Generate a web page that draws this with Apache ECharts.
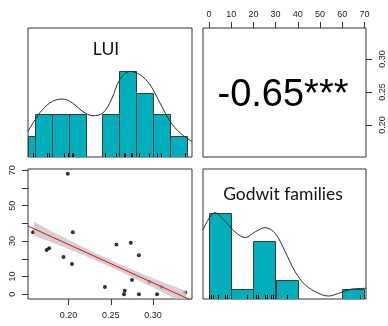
<!DOCTYPE html>
<html><head><meta charset="utf-8">
<script src="https://cdn.jsdelivr.net/npm/echarts@6/dist/echarts.min.js"></script>
<style>html,body{margin:0;padding:0;background:#fff}#c{width:388px;height:326px}</style>
</head><body><div id="c"></div>
<script>
// ---- data ----
const luiValues    = [0.158,0.199,0.174,0.177,0.194,0.205,0.204,0.243,0.2566,0.2656,0.2664,0.2736,0.275,0.2832,0.2832,0.3047,0.338,0.2955,0.3098];
const godwitValues = [35,68,25,26,21,35,17,4,28,0,2,29,8,22,0,0,1,7,4];

const luiBreaks = [0.14,0.16,0.18,0.20,0.22,0.24,0.26,0.28,0.30,0.32,0.34];
const luiCounts = [1,2,2,2,0,2,4,3,2,1];
const godwitBreaks = [0,10,20,30,40,50,60,70];
const godwitCounts = [9,1,6,2,0,0,1];

const luiDensX = [0.152,0.1591,0.169,0.1809,0.1928,0.2048,0.2167,0.2286,0.2406,0.2506,0.2605,0.2724,0.2844,0.2963,0.3082,0.3202,0.3321,0.346];
const luiDensY = [1.2,1.66,2.21,2.6,2.71,2.52,2.13,1.93,2.06,2.68,3.61,4.0,3.85,3.38,2.52,1.66,1.12,0.72];
const godDensX = [-2.72,2.7,7.2,11.7,16.3,20.8,25.3,29.8,34.3,38.8,43.4,49.4,53.9,58.4,64.5,70.72];
const godDensY = [7.19,8.99,8.1,7.0,6.4,7.0,7.43,6.84,4.93,2.84,1.46,0.59,0.31,0.59,1.04,1.11];

const regX = [0.152,0.346];
const regY = [38.5,-3.6];
const bandX     = [0.159,0.18,0.20,0.22,0.24,0.26,0.28,0.30,0.32,0.339];
const bandLower = [33.0,29.2,25.5,21.6,17.4,13.1,8.5,3.8,-1.1,-6.0];
const bandUpper = [41.0,35.6,30.7,26.0,21.4,17.1,12.9,9.0,5.3,1.8];

const corrText = '-0.65***';
const luiTicks = [0.20,0.25,0.30];
const godwitTicks = [0,10,20,30,40,50,60,70];
const godwitLabels = [0,10,30,50,70];

const luiRange = [0.152,0.346];
const godwitRange = [-2.72,70.72];

// ---- chart ----
const chart = echarts.init(document.getElementById('c'), null, {renderer:'canvas'});
const boxColor = '#333';
const tickStyle = {color:'#333', width:1};
const labelStyle = {color:'#222', fontSize:9, fontFamily:'Liberation Sans'};
const noLine = {show:false, onZero:false};

function histSeries(g, breaks, counts, xmin){
  return {type:'custom', xAxisIndex:g, yAxisIndex:g, clip:true, z:2,
    encode:{x:[0,1], y:2},
    data: counts.map((c,i)=>[breaks[i], breaks[i+1], c]),
    renderItem:(params, api)=>{
      const c = api.value(2); if(!c) return null;
      const x0 = Math.max(api.value(0), xmin);
      const p0 = api.coord([x0, c]); const p1 = api.coord([api.value(1), 0]);
      return {type:'rect', shape:{x:Math.round(p0[0])+0.5, y:Math.round(p0[1])+0.5, width:Math.round(p1[0]-p0[0]), height:Math.round(p1[1]-p0[1])},
        style:{fill:'#00AFBB', stroke:'#3a3a3a', lineWidth:1}};
    }};
}
function rugSeries(g, vals){
  return {type:'custom', xAxisIndex:g, yAxisIndex:g, z:3,
    data: vals.map(v=>[v,0]),
    renderItem:(params, api)=>{
      const p = api.coord([api.value(0),0]);
      const x = Math.round(p[0])+0.5;
      return {type:'line', shape:{x1:x, y1:p[1], x2:x, y2:p[1]-4}, style:{stroke:'#000', lineWidth:1}};
    }};
}
function densSeries(g, xs, ys){
  return {type:'line', xAxisIndex:g, yAxisIndex:g, z:4, smooth:0.35, showSymbol:false, silent:true,
    data: xs.map((x,i)=>[x, ys[i]]), lineStyle:{color:'#2a2a2a', width:1}};
}
const hidden = {show:false};

const option = {
  animation:false,
  grid:[
    {left:28, top:28, width:164, height:129, show:true, borderColor:boxColor, borderWidth:1, backgroundColor:'transparent'},
    {left:203, top:28, width:163, height:129, show:true, borderColor:boxColor, borderWidth:1, backgroundColor:'transparent'},
    {left:28, top:169, width:164, height:130, show:true, borderColor:boxColor, borderWidth:1, backgroundColor:'transparent'},
    {left:203, top:169, width:163, height:130, show:true, borderColor:boxColor, borderWidth:1, backgroundColor:'transparent'}
  ],
  xAxis:[
    {gridIndex:0, type:'value', min:luiRange[0], max:luiRange[1], show:false, splitLine:hidden, axisLine:noLine},
    {gridIndex:1, type:'value', position:'top', min:godwitRange[0], max:godwitRange[1], splitLine:hidden,
      axisLine:noLine, axisTick:{show:true, length:6, customValues:godwitTicks, lineStyle:tickStyle},
      axisLabel:Object.assign({customValues:godwitTicks, margin:9}, labelStyle)},
    {gridIndex:2, type:'value', position:'bottom', min:luiRange[0], max:luiRange[1], splitLine:hidden,
      axisLine:noLine, axisTick:{show:true, length:6, customValues:luiTicks, lineStyle:tickStyle},
      axisLabel:Object.assign({customValues:luiTicks, margin:12, formatter:v=>v.toFixed(2)}, labelStyle)},
    {gridIndex:3, type:'value', min:godwitRange[0], max:godwitRange[1], show:false, splitLine:hidden, axisLine:noLine}
  ],
  yAxis:[
    {gridIndex:0, type:'value', min:0, max:6.03, show:false, splitLine:hidden, axisLine:noLine},
    {gridIndex:1, type:'value', position:'right', min:0.1515, max:0.347, splitLine:hidden,
      axisLine:noLine, axisTick:{show:true, length:6, customValues:luiTicks, lineStyle:tickStyle},
      axisLabel:Object.assign({customValues:luiTicks, rotate:90, margin:12, formatter:v=>v.toFixed(2)}, labelStyle)},
    {gridIndex:2, type:'value', position:'left', min:godwitRange[0], max:godwitRange[1], splitLine:hidden,
      axisLine:noLine, axisTick:{show:true, length:6, customValues:godwitTicks, lineStyle:tickStyle},
      axisLabel:Object.assign({customValues:godwitLabels, rotate:90, margin:11}, labelStyle)},
    {gridIndex:3, type:'value', min:0, max:13.54, show:false, splitLine:hidden, axisLine:noLine}
  ],
  series:[
    histSeries(0, luiBreaks, luiCounts, luiRange[0]),
    rugSeries(0, luiValues),
    densSeries(0, luiDensX, luiDensY),
    {type:'scatter', xAxisIndex:1, yAxisIndex:1, data:[]},
    {type:'scatter', xAxisIndex:2, yAxisIndex:2, z:2, symbolSize:4, itemStyle:{color:'#000'},
      data: luiValues.map((v,i)=>[v, godwitValues[i]])},
    {type:'custom', xAxisIndex:2, yAxisIndex:2, z:3, clip:true, silent:true,
      data: bandX.map((x,i)=>[x, bandLower[i], bandUpper[i]]),
      renderItem:(params, api)=>{
        if(params.dataIndex!==0) return null;
        const up = bandX.map((x,i)=>api.coord([x, bandUpper[i]]));
        const lo = bandX.map((x,i)=>api.coord([x, bandLower[i]])).reverse();
        return {type:'polygon', shape:{points:up.concat(lo)}, style:{fill:'rgba(195,195,195,0.75)'}};
      }},
    {type:'line', xAxisIndex:2, yAxisIndex:2, z:4, showSymbol:false, silent:true, clip:true,
      data: regX.map((x,i)=>[x, regY[i]]), lineStyle:{color:'#ff0000', width:1}},
    histSeries(3, godwitBreaks, godwitCounts, godwitRange[0]),
    rugSeries(3, godwitValues),
    densSeries(3, godDensX, godDensY)
  ],
  graphic:[
    {type:'text', x:106, y:49, z:10, style:{text:'LUI', font:'17.5px Lato', fill:'#111', align:'center', verticalAlign:'middle'}},
    {type:'text', x:283, y:194, z:10, style:{text:'Godwit families', font:'17.5px Lato', fill:'#111', align:'center', verticalAlign:'middle'}},
    {type:'text', x:283, y:96, z:10, style:{text:corrText, font:'38px "Liberation Sans"', fill:'#000', align:'center', verticalAlign:'middle'}}
  ]
};
chart.setOption(option);
</script></body></html>
